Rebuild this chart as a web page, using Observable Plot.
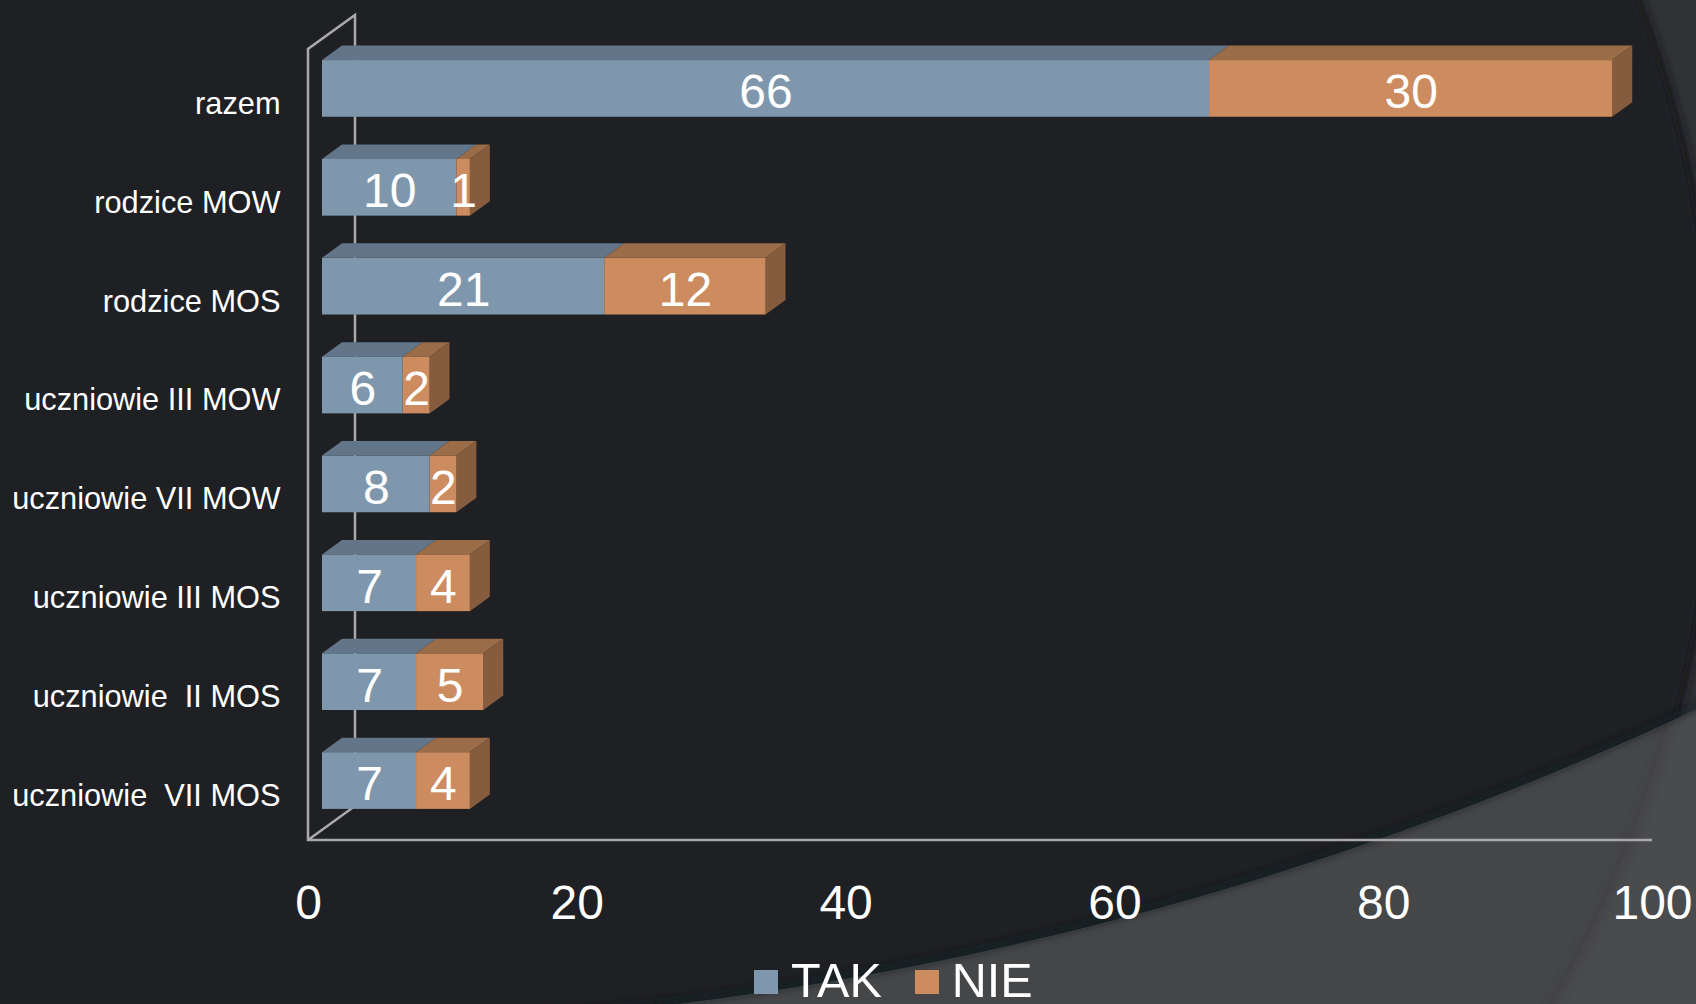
<!DOCTYPE html>
<html>
<head>
<meta charset="utf-8">
<script src="https://cdn.jsdelivr.net/npm/d3@7"></script>
<script src="https://cdn.jsdelivr.net/npm/@observablehq/plot@0.6"></script>
<style>
html, body { margin: 0; padding: 0; width: 1696px; height: 1004px; overflow: hidden; background: #1f2023; }
#bg { position: absolute; left: 0; top: 0; }
#wrap { position: absolute; left: 0; top: 0; width: 1696px; }
svg text { white-space: pre; }
#legend { position: relative; height: 54px; display: flex; align-items: flex-start; padding-left: 754px;
  font-family: 'Liberation Sans', Arial, sans-serif; color: #ffffff; }
#legend .sw { width: 24px; height: 24px; margin-top: 20px; flex: none; }
#legend .lb { font-size: 48.5px; line-height: 47px; margin-top: 7px; margin-left: 13px; margin-right: 33px; white-space: pre; }
</style>
</head>
<body>
<svg id="bg" width="1696" height="1004">
  <defs>
    <clipPath id="c2"><circle cx="258" cy="-2357" r="3387"></circle></clipPath>
    <filter id="blur" x="-10%" y="-10%" width="120%" height="120%"><feGaussianBlur stdDeviation="4"></feGaussianBlur></filter>
  </defs>
  <rect width="1696" height="1004" fill="#4a4b4d"></rect>
  <circle cx="529" cy="417" r="1179" fill="#454648"></circle>
  <circle cx="529" cy="417" r="1180" fill="none" stroke="#3a3b3d" stroke-width="4" filter="url(#blur)"></circle>
  <g clip-path="url(#c2)">
    <rect width="1696" height="1004" fill="#313235"></rect>
    <circle cx="529" cy="417" r="1184" fill="none" stroke="#18191b" stroke-width="10" filter="url(#blur)"></circle>
    <circle cx="529" cy="417" r="1179" fill="#1f2023"></circle>
  </g>
  <circle cx="258" cy="-2357" r="3384" fill="none" stroke="#16171a" stroke-width="5" stroke-opacity="0.7" filter="url(#blur)"></circle>
</svg>
<div id="wrap">
  <div id="chart"></div>
  <div id="legend"></div>
</div>
<script>
// ---- data ----
const categories = ["razem", "rodzice MOW", "rodzice MOS", "uczniowie III MOW", "uczniowie VII MOW", "uczniowie III MOS", "uczniowie  II MOS", "uczniowie  VII MOS"];
const series = ["TAK", "NIE"];
const takValues = [66, 10, 21, 6, 8, 7, 7, 7];
const nieValues = [30, 1, 12, 2, 2, 4, 5, 4];
const xTicks = [0, 20, 40, 60, 80, 100];

// ---- styles ----
const frontColors = ["#7f97ad", "#cd8c60"];
const topColors = ["#627589", "#9b6c48"];
const sideColors = ["#566879", "#855c3e"];
const BAR_DX = 14, BAR_DY = -10;      // bar front face offset into depth
const DEPTH_DX = 20, DEPTH_DY = -14.5; // bar depth
const WALL_DX = 47, WALL_DY = -34;    // wall depth
const FONT = "'Liberation Sans', Arial, sans-serif";

const valuesBySeries = [takValues, nieValues];
const data = [];
series.forEach((s, j) => categories.forEach((c, i) => data.push({category: c, series: s, value: valuesBySeries[j][i]})));

function bw(scale) { return typeof scale.bandwidth === "function" ? scale.bandwidth() : scale.bandwidth; }

// 3D frame lines
function frameMark(index, scales, values, dims) {
  const x0 = scales.x(0), x1 = scales.x(100);
  const top = dims.marginTop, bottom = dims.height - dims.marginBottom;
  const g = d3.create("svg:g").attr("fill", "none").attr("stroke", "#a9a9a9").attr("stroke-width", 2.5);
  g.append("path").attr("d",
    `M${x0 + WALL_DX},${bottom + WALL_DY}L${x0 + WALL_DX},${top + WALL_DY}L${x0},${top}L${x0},${bottom}L${x1},${bottom}` +
    `M${x0},${bottom}L${x0 + WALL_DX},${bottom + WALL_DY}`);
  return g.node();
}

// top and side faces of 3D bars
function facesMark(index, scales, values, dims) {
  const x = scales.x, y = scales.y, h = bw(y);
  const g = d3.create("svg:g");
  categories.forEach((c, i) => {
    const y0 = y(c) + BAR_DY, y1 = y0 + h;
    let acc = 0, last = 0;
    series.forEach((s, j) => {
      const v = valuesBySeries[j][i];
      if (!v) return;
      const xa = x(acc) + BAR_DX, xb = x(acc + v) + BAR_DX;
      g.append("path")
        .attr("d", `M${xa},${y0}L${xb},${y0}L${xb + DEPTH_DX},${y0 + DEPTH_DY}L${xa + DEPTH_DX},${y0 + DEPTH_DY}Z`)
        .attr("fill", topColors[j]);
      acc += v; last = j;
    });
    const xe = x(acc) + BAR_DX;
    g.append("path")
      .attr("d", `M${xe},${y0}L${xe + DEPTH_DX},${y0 + DEPTH_DY}L${xe + DEPTH_DX},${y1 + DEPTH_DY}L${xe},${y1}Z`)
      .attr("fill", sideColors[last]);
  });
  return g.node();
}

const chart = Plot.plot({
  width: 1696,
  height: 950,
  marginTop: 49,
  marginBottom: 110,
  marginLeft: 308,
  marginRight: 44,
  style: {background: "transparent", color: "#ffffff", fontFamily: FONT},
  x: {domain: [0, 100]},
  y: {domain: categories, paddingInner: 0.427, paddingOuter: 0.2135, round: false},
  color: {domain: series, range: frontColors},
  marks: [
    frameMark,
    facesMark,
    Plot.barX(data, {x: "value", y: "category", fill: "series", dx: BAR_DX, dy: BAR_DY}),
    Plot.text(data, Plot.stackX({x: "value", y: "category", z: "series", text: d => String(d.value),
      fill: "#ffffff", fontSize: 48, dx: BAR_DX, dy: -6})),
    Plot.axisY({tickSize: 0, tickPadding: 28, fontSize: 30.75, dy: 5, fill: "#ffffff", label: null}),
    Plot.axisX({ticks: xTicks, tickSize: 0, tickPadding: 44, fontSize: 48, fill: "#ffffff", label: null, tickFormat: d => String(d)})
  ]
});
document.getElementById("chart").appendChild(chart);

// legend
const legend = d3.select("#legend");
series.forEach((s, j) => {
  legend.append("div").attr("class", "sw").style("background", frontColors[j]);
  legend.append("div").attr("class", "lb").text(s);
});
</script>
</body>
</html>
